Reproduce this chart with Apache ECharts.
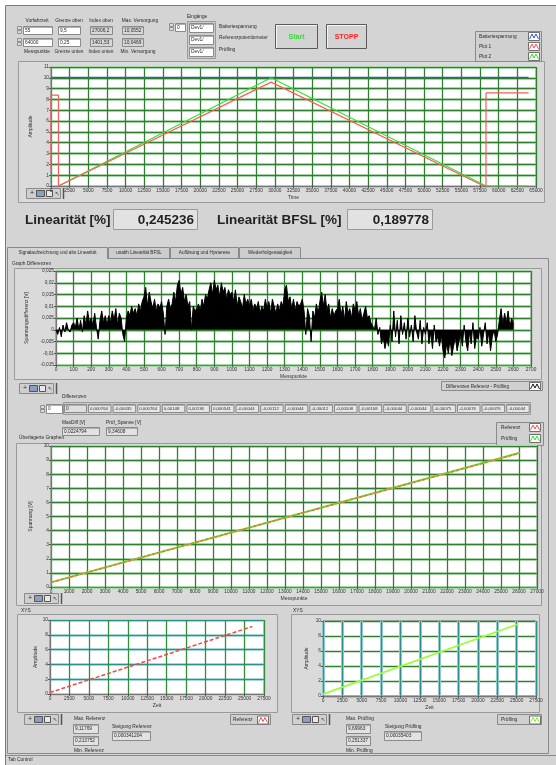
<!DOCTYPE html>
<html><head><meta charset="utf-8">
<script src="https://cdn.jsdelivr.net/npm/echarts/dist/echarts.min.js"></script>
<style>html,body{margin:0;padding:0;background:#fff}#c{width:556px;height:765px}</style>
</head><body><div id="c"></div>
<script>
// ---------------- DATA ----------------
const batteryLine = [[0,10.05],[64000,10.05]];
const plot1Line = [[0,1.6],[0,8.4],[1000,8.4],[1000,0],[29500,9.6],[58000,0],[58300,0],[58300,8.6],[64000,8.6]];
const plot2Line = [[1000,0],[29500,10.0],[58300,0],[64000,0]];
const diffStep = 10; // Messpunkte between samples
const diffMilliVolt = [
 0,-2,1,-3,2,-1,3,0,-1,2,
 3,1,5,0,4,-1,6,2,8,3,
 5,2,7,1,-4,4,8,3,6,2,
 6,3,8,4,9,2,7,5,-2,-5,
 5,8,6,10,7,9,6,11,8,12,
 14,18,10,16,12,9,13,8,11,9,
 12,7,-2,10,13,9,11,16,12,19,
 21,15,18,12,15,10,12,0,10,8,
 9,11,8,13,10,15,13,17,20,15,
 21,17,19,14,20,16,18,13,17,15,
 16,12,17,10,14,12,9,15,11,13,
 10,13,8,11,9,12,7,10,8,13,
 9,12,7,13,10,7,11,8,12,10,
 17,19,12,14,9,13,8,12,10,11,
 13,8,-2,9,6,-5,8,5,11,7,
 12,16,10,15,8,11,5,9,6,8,
 9,13,6,10,4,12,7,9,5,11,
 8,12,6,9,4,7,10,5,6,3,
 3,0,5,-2,1,-6,-3,-8,-4,-7,
 2,-5,8,-3,4,-6,6,-2,3,-4,
 5,-3,2,-5,6,-1,-4,4,-6,1,
 -2,3,-6,-1,-8,2,-5,-3,-7,-2,
 -9,-12,-6,-10,-4,-11,-7,-3,-9,-5,
 -2,-7,2,-5,-9,-1,-6,3,-8,-3,
 -4,1,-7,-2,3,-6,-1,-9,-3,0,
 -5,-2,4,9,2,7,3,8,1,5,
 2
];
const overlayPruefling = [[0,0.33],[26050,9.52]];
const overlayReferenz = [[0,0.33],[26050,9.5]];
const refLine = [[0,0.2],[26000,9.12]];
const pruefLine = [[0,0.25],[25200,9.6]];
const differenzen = ['0','0,000764','-0,00035','0,000764','0,00148','0,00136','0,000541','-0,00044','-0,00112','-0,00044','-0,00012','-0,00108','-0,00108','-0,00044','-0,00044','-0,00075','-0,00076','-0,00076','-0,00044'];
const linearitaet = '0,245236';
const linearitaetBFSL = '0,189778';
const tabNames = ['Signalaufzeichnung und abs Linearität','unabh Linearität BFSL','Auflösung und Hysterese','Wiederholgenauigkeit'];

// ---------------- GRAPHICS HELPERS ----------------
const F = 'Liberation Sans';
const G = [];
function R(x,y,w,h,fill,stroke,z){G.push({type:'rect',z:z==null?-5:z,silent:true,shape:{x:x,y:y,width:w,height:h},style:{fill:fill||'none',stroke:stroke||null,lineWidth:1}});}
function L(x1,y1,x2,y2,c,w,z){G.push({type:'line',z:z==null?-4:z,silent:true,shape:{x1:x1,y1:y1,x2:x2,y2:y2},style:{stroke:c,lineWidth:w||1}});}
function T(x,y,text,o){o=o||{};G.push({type:'text',z:20,silent:true,x:x,y:y,style:{text:text,fontSize:o.s||4.8,fontFamily:F,fontWeight:o.b?'bold':'normal',fill:o.c||'#2a2a2a',align:o.a||'left',verticalAlign:'middle',textAlign:o.a||'left',textVerticalAlign:'middle'}});}
function box(x,y,w,h,txt,fill,o){R(x+0.5,y+0.5,w,h,fill||'#ffffff','#8a8a8a',-3);L(x+1,y+1.5,x+w,y+1.5,'#b0b0b0',1,-2);if(txt!=null)T(x+2,y+h/2+0.5,txt,o);}
function spinner(x,y){R(x+0.5,y+0.5,4,3,'#dcdcdc','#909090',-3);R(x+0.5,y+4.5,4,3,'#dcdcdc','#909090',-3);}
function icon(x,y,col){R(x+0.5,y+0.5,11,8,'#ffffff','#707070',-3);G.push({type:'polyline',z:21,silent:true,shape:{points:[[x+1.5,y+7],[x+4,y+2],[x+6,y+6],[x+8,y+2],[x+10.5,y+7]]},style:{stroke:col,lineWidth:1,fill:null}});}
function toolbar(x,y){R(x+0.5,y+0.5,34,10,'#cfcfcf','#8a8a8a',-3);T(x+4,y+5.5,'+',{s:7,c:'#333'});R(x+10.5,y+2.5,8,6,'#8aa0c0','#555',-2);R(x+20.5,y+2.5,6,6,'#e8e8e8','#555',-2);T(x+29,y+5.5,'↖',{s:5,c:'#333'});L(x+37.5,y,x+37.5,y+11,'#555',1.5,-2);}

// ---------------- STATIC PANEL ----------------
R(0,0,556,765,'#ffffff',null,-9);
R(5.5,5.5,551,760,'#d4d4d4','#7a7a7a',-8);
T(37,21,'Vorfahrzeit',{a:'center'});T(69,21,'Grenze oben',{a:'center'});T(101,21,'Index oben',{a:'center'});T(140,21,'Max. Versorgung',{a:'center'});
spinner(17,26);spinner(17,38);
box(23,26,29,8,'55');box(23,38,29,8,'64000');
box(58,26,22,8,'9,5');box(58,38,22,8,'0,25');
box(90,26,22,8,'27006,2','#d8d8d8');box(90,38,22,8,'1401,53','#d8d8d8');
box(122,26,21,8,'10,0552','#d8d8d8');box(122,38,21,8,'10,0469','#d8d8d8');
T(37,52,'Messpunkte',{a:'center'});T(69,52,'Grenze unten',{a:'center'});T(101,52,'Index unten',{a:'center'});T(138,52,'Min. Versorgung',{a:'center'});
spinner(169,23);box(175,23,10,8,'0');
T(187,17,'Eingänge');
R(187.5,21.5,28,37,'#cccccc','#9a9a9a',-4);
box(189,23,24,9,'Dev1/');box(189,35,24,9,'Dev1/');box(189,47,24,9,'Dev1/');
T(219,27,'Batteriespannung');T(219,38,'Referenzpotentiometer');T(219,50,'Prüfling');
R(275.5,24.5,42,24,'#d2d2d2','#5a5a5a',-3);L(276,25.5,317,25.5,'#f6f6f6',1,-2);L(276.5,25,276.5,48,'#f6f6f6',1,-2);
T(296.5,37,'Start',{a:'center',s:7,b:true,c:'#33dd33'});
R(326.5,24.5,40,24,'#d2d2d2','#5a5a5a',-3);L(327,25.5,366,25.5,'#f6f6f6',1,-2);L(327.5,25,327.5,48,'#f6f6f6',1,-2);
T(346.5,37,'STOPP',{a:'center',s:7,b:true,c:'#ff2222'});
R(475.5,31.5,66,30,'#d0d0d0','#8a8a8a',-4);
T(479,36.5,'Batteriespannung');T(479,46.5,'Plot 1');T(479,56.5,'Plot 2');
icon(528,32,'#3355dd');icon(528,42,'#ff5050');icon(528,52,'#33dd33');
R(18.5,61.5,526,141,'#dadada','#9a9a9a',-6);
toolbar(26,188);
T(25,220,'Linearität [%]',{s:13.5,b:true,c:'#222'});
R(113.5,209.5,84,20,'#e2e2e2','#9a9a9a',-3);T(194,220,linearitaet,{s:13.5,b:true,a:'right',c:'#222'});
T(217,220,'Linearität BFSL [%]',{s:13.5,b:true,c:'#222'});
R(347.5,209.5,85,20,'#e2e2e2','#9a9a9a',-3);T(429,220,linearitaetBFSL,{s:13.5,b:true,a:'right',c:'#222'});
R(7.5,258.5,541,495,'#d4d4d4','#8a8a8a',-7);
const tabX = [7,108,170,239,301];
for(let i=0;i<4;i++){
  R(tabX[i]+0.5,247.5,tabX[i+1]-tabX[i]-1,11,i===0?'#d4d4d4':'#cdcdcd','#8a8a8a',-6);
  T((tabX[i]+tabX[i+1])/2,253,tabNames[i],{a:'center',s:4.6});
}
L(8,258.5,107,258.5,'#d4d4d4',1.5,-5);
T(12,264,'Graph Differenzen');
R(14.5,268.5,527,111,'#dadada','#9a9a9a',-6);
toolbar(19,383);
R(441.5,381.5,101,9,'#d0d0d0','#8a8a8a',-4);T(446,386.5,'Differenzen Referenz - Prüfling',{s:4.6});icon(529,382,'#111111');
T(62,397,'Differenzen');
spinner(40,405);box(46,404,16,9,'0');
R(63.5,402.5,467,12,'#cacaca','#9a9a9a',-4);
box(64,404,22,8,differenzen[0],'#dedede');
for(let i=1;i<differenzen.length;i++){box(88+(i-1)*24.6,404,22.5,8,differenzen[i],'#e6e6e6',{s:4.3});}
T(62,423,'MaxDiff [V]');box(62,427,37,8,'0,0224794','#e2e2e2');
T(106,423,'Prüf_Spanne [V]');box(106,427,31,8,'9,34608','#e2e2e2');
R(496.5,422.5,47,23,'#d0d0d0','#8a8a8a',-4);
T(501,428,'Referenz');T(501,439,'Prüfling');icon(529,423,'#ff5050');icon(529,434,'#33dd33');
T(19,438,'Überlagerte Graphen');
R(16.5,443.5,525,162,'#dadada','#9a9a9a',-6);
toolbar(24,593);
T(21,611,'XYS');
R(17.5,614.5,260,98,'#dadada','#9a9a9a',-6);
toolbar(24,714);
R(230.5,714.5,40,10,'#d0d0d0','#8a8a8a',-4);T(233,720,'Referenz');icon(257,715.5,'#ff5050');
T(74,719,'Max. Referenz');box(73,724,25,9,'9,11769','#e2e2e2');box(73,736,25,9,'0,213752','#e2e2e2');T(74,751,'Min. Referenz');
T(112,727,'Steigung Referenz');box(112,731,38,9,'0,000341204','#e2e2e2');
T(293,611,'XYS');
R(291.5,614.5,248,98,'#dadada','#9a9a9a',-6);
toolbar(292,714);
R(497.5,714.5,44,10,'#d0d0d0','#8a8a8a',-4);T(501,720,'Prüfling');icon(529,715.5,'#88ee33');
T(346,719,'Max. Prüfling');box(346,724,24,9,'9,69963','#e2e2e2');box(346,736,24,9,'0,251337','#e2e2e2');T(346,751,'Min. Prüfling');
T(385,727,'Steigung Prüfling');box(384,731,37,9,'0,00035403','#e2e2e2');
L(6,755.5,556,755.5,'#8a8a8a',1,-4);
T(8,760,'Tab Control',{s:4.8});

// ---------------- CHARTS ----------------
const grids=[], xAxes=[], yAxes=[], series=[];
const plain = v => String(v);
const lab = {fontSize:4.8,color:'#333',fontFamily:F,margin:2};
function addChart(c){
  const gi = grids.length;
  grids.push({left:c.l,top:c.t,width:c.w,height:c.h,show:true,backgroundColor:'#ffffff',borderColor:'#8c8c8c',borderWidth:1});
  const xi = xAxes.length, yi = yAxes.length;
  xAxes.push({gridIndex:gi,type:'value',min:c.x[0],max:c.x[1],interval:c.x[2],name:c.xName,nameLocation:'middle',nameGap:c.xGap,
    nameTextStyle:{fontSize:5,color:'#333',fontFamily:F},axisLine:{show:true,onZero:false,lineStyle:{color:'#777'}},
    axisTick:{show:true,length:2,lineStyle:{color:'#555'}},axisLabel:Object.assign({},lab,{formatter:c.xFmt||plain}),
    splitLine:{show:true,lineStyle:{color:c.vBand||c.vCol,width:c.vBand?3:1.3}}});
  yAxes.push({gridIndex:gi,type:'value',min:c.y[0],max:c.y[1],interval:c.y[2],name:c.yName,nameLocation:'middle',nameGap:c.yGap,nameRotate:90,
    nameTextStyle:{fontSize:5,color:'#333',fontFamily:F},axisLine:{show:true,onZero:false,lineStyle:{color:'#777'}},
    axisTick:{show:true,length:2,lineStyle:{color:'#555'}},axisLabel:Object.assign({},lab,{formatter:c.yFmt||plain}),
    splitLine:{show:true,lineStyle:{color:c.hBand||c.hCol,width:c.hBand?3:1.3}}});
  if(c.hBand){yAxes.push({gridIndex:gi,type:'value',min:c.y[0],max:c.y[1],interval:c.y[2],axisLine:{show:false},axisTick:{show:false},axisLabel:{show:false},splitLine:{show:true,lineStyle:{color:c.hCol,width:1}}});}
  if(c.vBand){xAxes.push({gridIndex:gi,type:'value',min:c.x[0],max:c.x[1],interval:c.x[2],axisLine:{show:false},axisTick:{show:false},axisLabel:{show:false},splitLine:{show:true,lineStyle:{color:c.vCol,width:1}}});}
  return {xi:xi, yi:yi};
}
function addLine(ax,data,color,width,dash,area){
  const s={type:'line',xAxisIndex:ax.xi,yAxisIndex:ax.yi,data:data,showSymbol:false,symbol:'none',z:5,
    lineStyle:{color:color,width:width,type:dash||'solid'},emphasis:{disabled:true}};
  if(area) s.areaStyle={color:color,opacity:1,origin:'auto'};
  series.push(s);
}

const a0 = addChart({l:51,t:67,w:485,h:119,x:[0,65000,2500],y:[0,11,1],xName:'Time',xGap:9,yName:'Amplitude',yGap:15,
  vCol:'#2e7f2e',hBand:'#a8d6a8',hCol:'#2e7f2e'});
addLine(a0,batteryLine,'#3355dd',1.2);
addLine(a0,plot2Line,'#33e033',1.2);
addLine(a0,plot1Line,'#ff5a5a',1.2);

const a1 = addChart({l:56,t:271,w:475,h:94,x:[0,2700,100],y:[-15,25,5],xName:'Messpunkte',xGap:9,yName:'Spannungsdifferenz [V]',yGap:20,
  vCol:'#2e7f2e',hBand:'#a8d6a8',hCol:'#2e7f2e',
  yFmt: v => v===0 ? '0' : String(v/1000).replace('.',',')});
addLine(a1,diffMilliVolt.map((v,i)=>[i*diffStep,v]),'#000000',1,null,true);

const a2 = addChart({l:51,t:446,w:486,h:141,x:[0,27000,1000],y:[0,10,1],xName:'Messpunkte',xGap:9,yName:'Spannung [V]',yGap:17,
  vCol:'#2e7f2e',hBand:'#a8d6a8',hCol:'#2e7f2e'});
addLine(a2,overlayPruefling,'#66dd33',2);
addLine(a2,overlayReferenz,'#ff6633',1.4,[3,2]);

const a3 = addChart({l:50,t:620,w:214,h:74,x:[0,27500,2500],y:[0,10,2],xName:'Zeit',xGap:9,yName:'Amplitude',yGap:12,
  vCol:'#2e8f3e',hBand:'#a6d8d8',hCol:'#2e8f8f'});
addLine(a3,refLine,'#ff4444',1.5,[4,2]);

const a4 = addChart({l:323,t:621,w:213,h:75,x:[0,27500,2500],y:[0,10,2],xName:'Zeit',xGap:9,yName:'Amplitude',yGap:14,
  vBand:'#8fcaca',vCol:'#2e8f8f',hCol:'#2e7f2e'});
addLine(a4,pruefLine,'#99ff33',1.6);

const chart = echarts.init(document.getElementById('c'),null,{renderer:'canvas',width:556,height:765});
chart.setOption({animation:false,grid:grids,xAxis:xAxes,yAxis:yAxes,series:series,graphic:{elements:G}});
</script></body></html>
